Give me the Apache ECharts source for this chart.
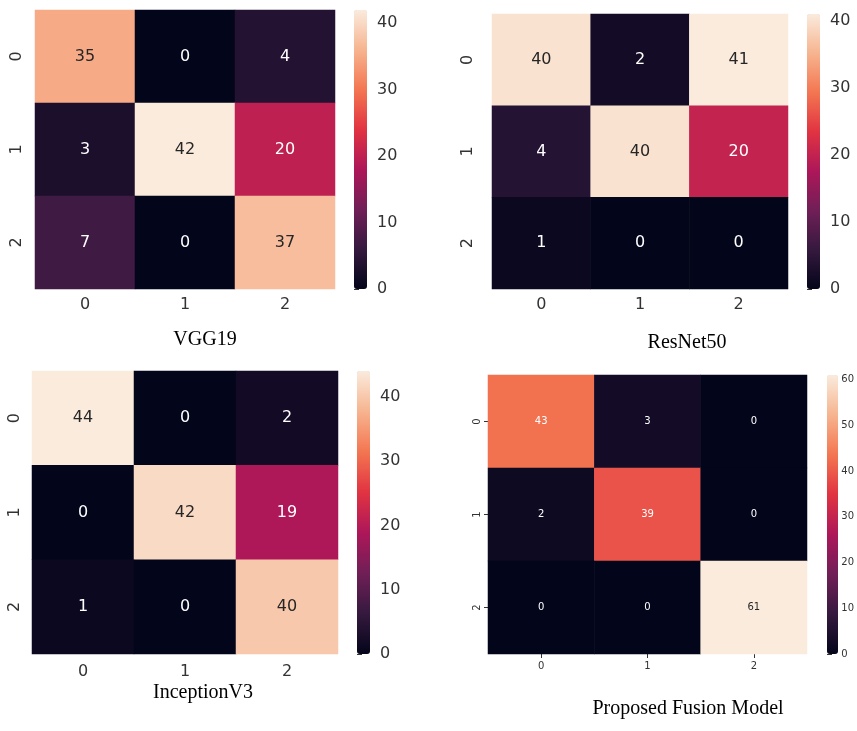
<!DOCTYPE html>
<html>
<head>
<meta charset="utf-8">
<script src="https://cdn.jsdelivr.net/npm/echarts@6/dist/echarts.min.js"></script>
<style>
  html, body { margin: 0; padding: 0; background: #fff; }
  #chart { width: 857px; height: 731px; }
</style>
</head>
<body>
<div id="chart"></div>
<script>
// class labels (rows = true, cols = predicted)
var classLabels = ['0', '1', '2'];

// confusion matrices, row by row
var vgg19Matrix = [[35, 0, 4], [3, 42, 20], [7, 0, 37]];
var resnet50Matrix = [[40, 2, 41], [4, 40, 20], [1, 0, 0]];
var inceptionMatrix = [[44, 0, 2], [0, 42, 19], [1, 0, 40]];
var fusionMatrix = [[43, 3, 0], [2, 39, 0], [0, 0, 61]];

var modelNames = ['VGG19', 'ResNet50', 'InceptionV3', 'Proposed Fusion Model'];
var colorbarStep = 10;

// seaborn "rocket"
var rocket = ['#03051a', '#35193e', '#701f57', '#ad1759', '#e13342', '#f37651', '#f6b48f', '#faebdd'];

var panels = [
    { name: modelNames[0], matrix: vgg19Matrix, grid: { left: 35, top: 10, width: 300, height: 279 },
      barLeft: 354, barWidth: 13, title: [205, 340], font: 16, ticks: false, yMargin: 10, xMargin: 8, cbMargin: 10 },
    { name: modelNames[1], matrix: resnet50Matrix, grid: { left: 492, top: 14, width: 296, height: 275 },
      barLeft: 807, barWidth: 13, title: [687, 343], font: 16, ticks: false, yMargin: 16, xMargin: 8, cbMargin: 10 },
    { name: modelNames[2], matrix: inceptionMatrix, grid: { left: 32, top: 371, width: 306, height: 283 },
      barLeft: 357, barWidth: 13, title: [203, 693], font: 16, ticks: false, yMargin: 9, xMargin: 10, cbMargin: 10 },
    { name: modelNames[3], matrix: fusionMatrix, grid: { left: 488, top: 375, width: 319, height: 279 },
      barLeft: 827, barWidth: 11, title: [688, 709], font: 10, ticks: true, yMargin: 6, xMargin: 7, cbMargin: 7 }
];

var grids = [], xAxes = [], yAxes = [], series = [], visualMaps = [], texts = [];

panels.forEach(function (p, i) {
    var maxVal = 0;
    p.matrix.forEach(function (row) { row.forEach(function (v) { if (v > maxVal) maxVal = v; }); });

    // heatmap grid
    grids.push({ left: p.grid.left, top: p.grid.top, width: p.grid.width, height: p.grid.height });
    xAxes.push({
        gridIndex: 2 * i, type: 'category', data: classLabels,
        axisLine: { show: false }, splitLine: { show: false },
        axisTick: { show: p.ticks, alignWithLabel: true, length: 4, lineStyle: { color: '#333' } },
        axisLabel: { fontSize: p.font, color: '#333', margin: p.xMargin, fontFamily: 'DejaVu Sans' }
    });
    yAxes.push({
        gridIndex: 2 * i, type: 'category', data: classLabels, inverse: true,
        axisLine: { show: false }, splitLine: { show: false },
        axisTick: { show: p.ticks, alignWithLabel: true, length: 4, lineStyle: { color: '#333' } },
        axisLabel: { fontSize: p.font, color: '#333', rotate: 90, margin: p.yMargin, fontFamily: 'DejaVu Sans' }
    });

    // colorbar axis grid
    grids.push({ left: p.barLeft, top: p.grid.top, width: p.barWidth, height: p.grid.height });
    xAxes.push({ gridIndex: 2 * i + 1, type: 'value', show: false, min: 0, max: 1 });
    yAxes.push({
        gridIndex: 2 * i + 1, type: 'value', position: 'right', min: 0, max: maxVal, interval: colorbarStep,
        axisLine: { show: false }, splitLine: { show: false },
        axisTick: { show: true, length: 5, lineStyle: { color: '#333' } },
        axisLabel: { fontSize: p.font, color: '#333', margin: p.cbMargin, fontFamily: 'DejaVu Sans',
            showMaxLabel: maxVal % colorbarStep === 0 ? true : false }
    });

    var data = [];
    p.matrix.forEach(function (row, r) {
        row.forEach(function (v, c) {
            data.push({ value: [c, r, v], label: { color: v / maxVal > 0.77 ? '#262626' : '#ffffff' } });
        });
    });

    series.push({
        type: 'heatmap', xAxisIndex: 2 * i, yAxisIndex: 2 * i, data: data,
        label: { show: true, fontSize: p.font, fontFamily: 'DejaVu Sans',
            formatter: function (q) { return q.value[2]; } },
        emphasis: { disabled: true }
    });

    visualMaps.push({
        type: 'continuous', seriesIndex: i, min: 0, max: maxVal,
        inRange: { color: rocket }, orient: 'vertical',
        left: p.barLeft, top: p.grid.top, itemWidth: p.barWidth, itemHeight: p.grid.height,
        padding: 0, calculable: false, hoverLink: false, text: null
    });

    texts.push({
        type: 'text', x: p.title[0], y: p.title[1],
        style: { text: p.name, fontSize: 20, fontFamily: 'Liberation Serif', fill: '#000',
            textAlign: 'center', textVerticalAlign: 'middle' }
    });
});

var chart = echarts.init(document.getElementById('chart'));
chart.setOption({
    animation: false,
    grid: grids,
    xAxis: xAxes,
    yAxis: yAxes,
    visualMap: visualMaps,
    series: series,
    graphic: texts
});
</script>
</body>
</html>
